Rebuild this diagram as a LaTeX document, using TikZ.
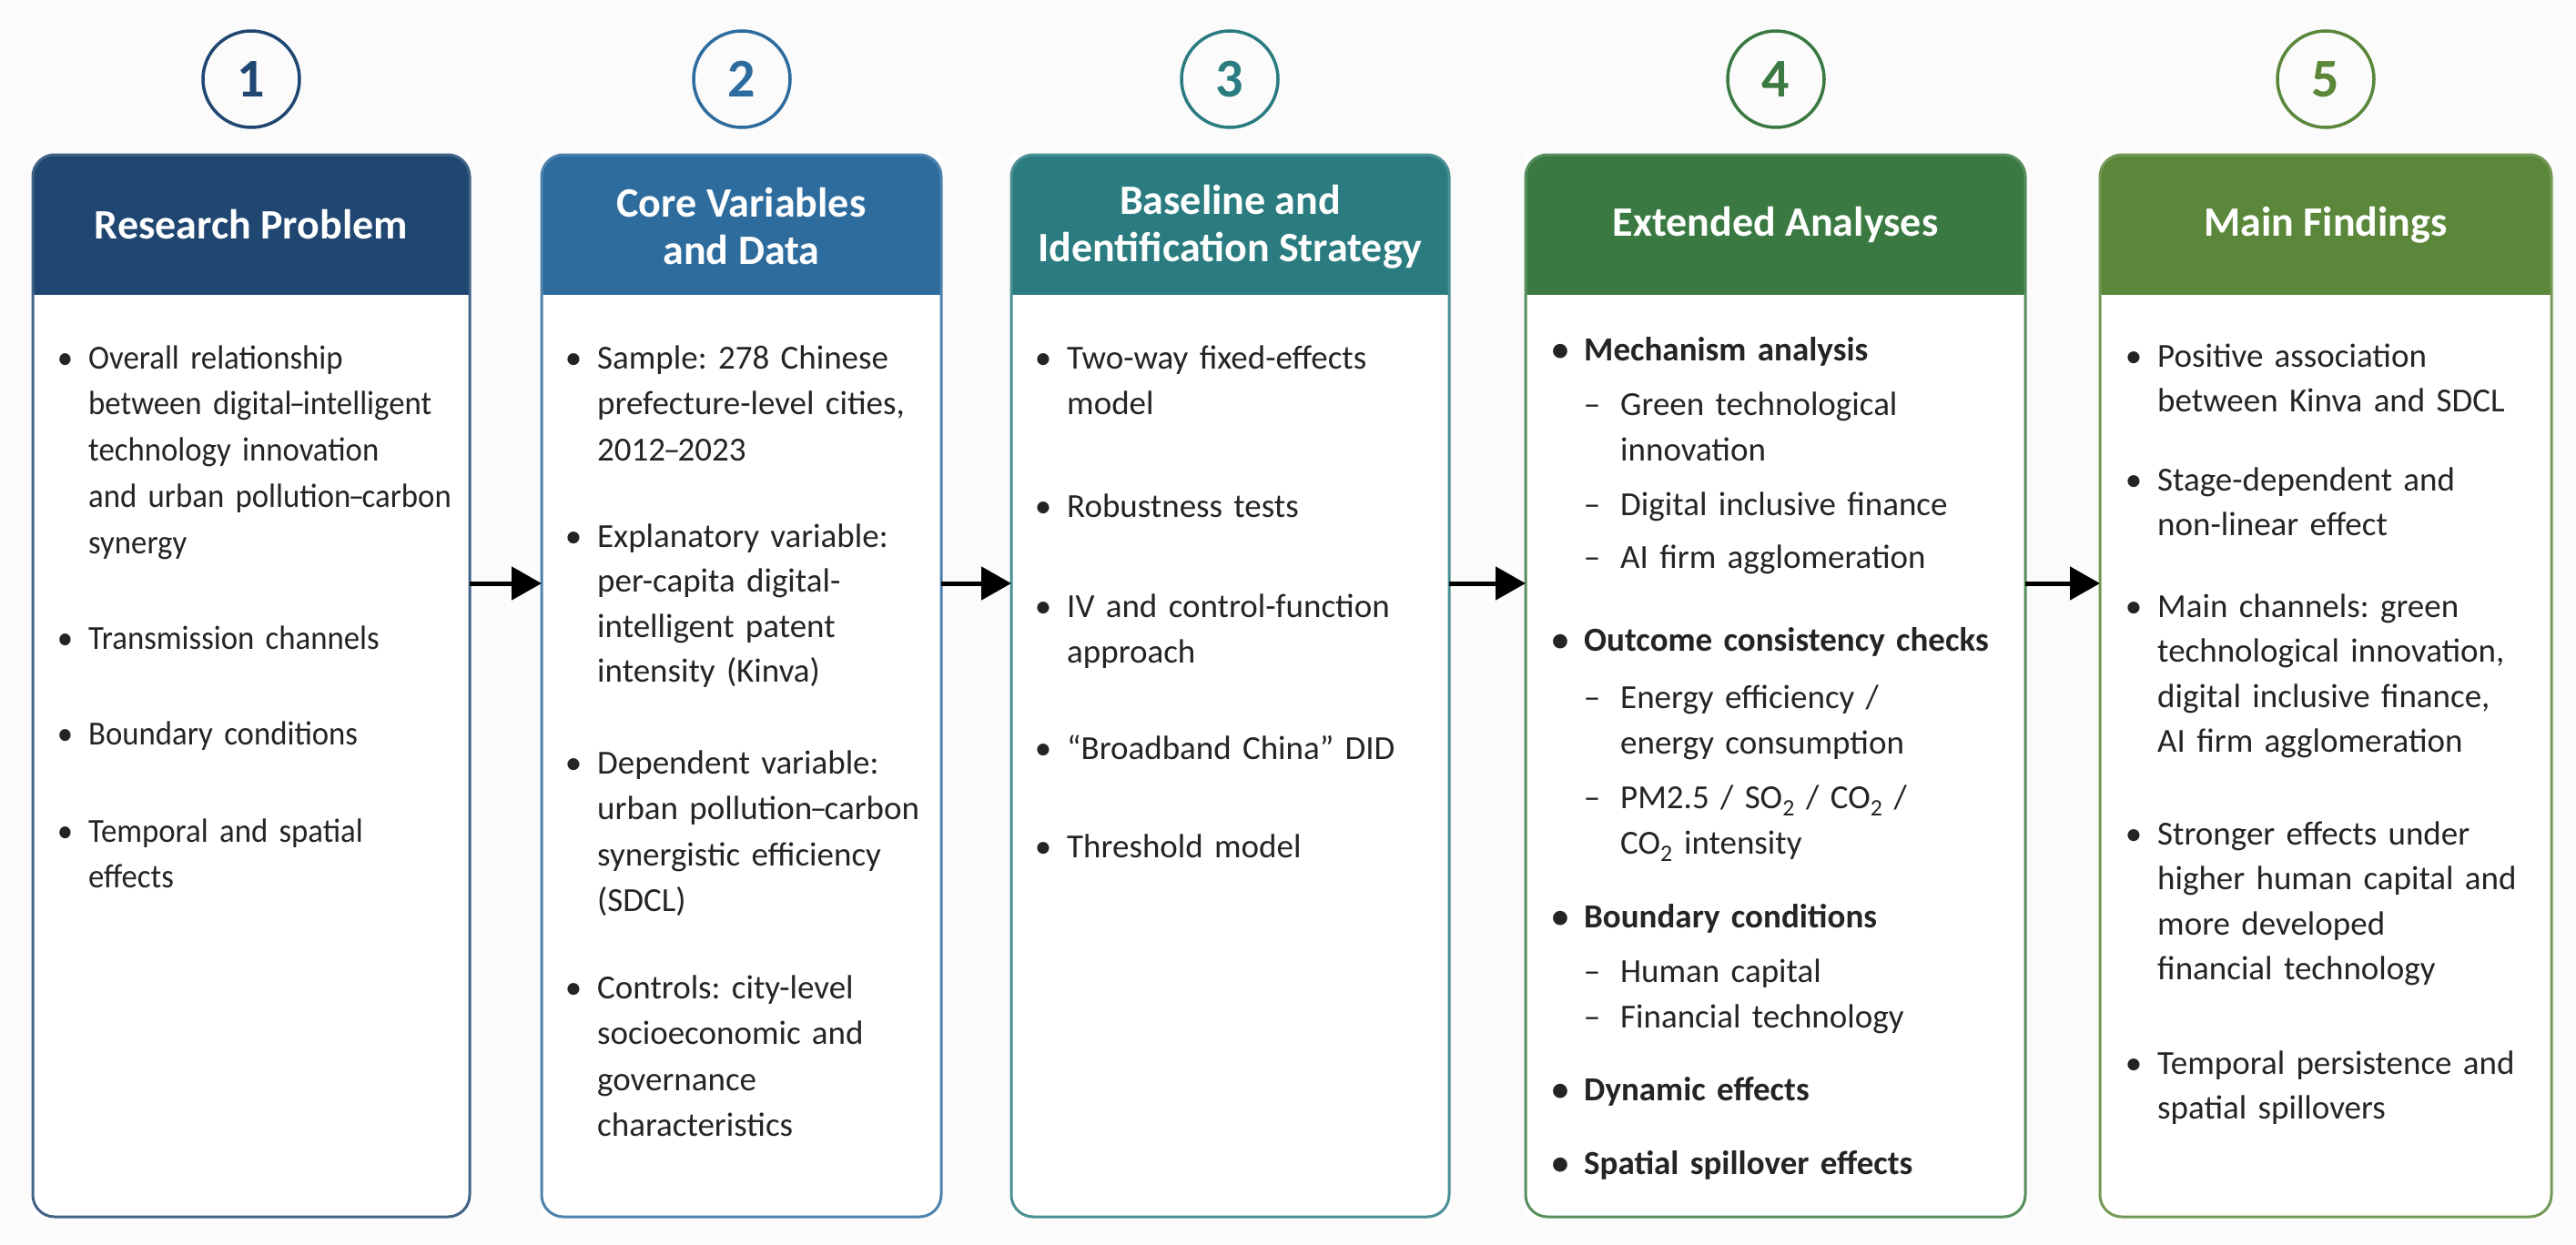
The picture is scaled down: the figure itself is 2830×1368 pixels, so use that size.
\documentclass[tikz,border=0pt]{standalone}
\usepackage{fontspec}
\setmainfont{Carlito}
\newfontfamily\narrowf{Carlito}[FakeStretch=0.94]
\usetikzlibrary{arrows.meta}
\definecolor{bgc}{HTML}{FBFBFB}
\definecolor{txt}{HTML}{242424}
\definecolor{cA}{HTML}{1F4771}
\definecolor{cB}{HTML}{2E6C9E}
\definecolor{cC}{HTML}{2A7C80}
\definecolor{cD}{HTML}{3A7A42}
\definecolor{cE}{HTML}{5B873A}
\newcommand\bul{\llap{•\hspace{17pt}}}
\newcommand\dsh{\llap{–\hspace{22pt}}}
\newcommand\nd{\kern-2.5pt–\kern-2.5pt}
\frenchspacing
\begin{document}
\begin{tikzpicture}[x=1pt,y=-1pt,
  boxsty/.style={draw=none,fill=white,minimum height=1167pt,inner sep=0pt,outer sep=0pt},
  hdrtxt/.style={text=white,font=\fontsize{46}{52}\selectfont\bfseries,align=center,inner sep=0pt},
  numsty/.style={circle,draw=#1,line width=3.5pt,minimum size=106pt,inner sep=0pt,text=#1,font=\fontsize{60}{60}\selectfont\bfseries},
  itm/.style={anchor=base west,inner sep=0pt,text width=470pt,align=left,text=txt,font=\fontsize{37}{50.5}\selectfont\frenchspacing},
  itmn/.style={itm,font=\narrowf\fontsize{37}{50.75}\selectfont\frenchspacing},
  itmb/.style={itm,font=\fontsize{37}{50.5}\selectfont\bfseries\frenchspacing},
  itmc/.style={itm,font=\fontsize{37}{49.5}\selectfont\frenchspacing},
  arr/.style={line width=5pt,-{Triangle[length=33pt,width=36pt]},black}
]
\fill[bgc] (0,0) rectangle (2830,1368);
\useasboundingbox (0,0) rectangle (2830,1368);

% boxes
\foreach \nm/\cx/\w/\col in {b1/276/480/cA, b2/814.5/439/cB, b3/1351.5/481/cC, b4/1950.5/549/cD, b5/2555/496/cE}{
  \node[boxsty,minimum width=\w pt] (\nm) at (\cx,753.5) {};
  \begin{scope}
    \clip[rounded corners=24pt] (\nm.north west) rectangle (\nm.south east);
    \fill[\col] (\nm.north west) rectangle (\nm.east |- 0,324);
  \end{scope}
  \draw[\col!85!white,line width=3pt,rounded corners=24pt] (\nm.north west) rectangle (\nm.south east);
}

% numbers
\node[numsty=cA] (n1) at (276,87) {1};
\node[numsty=cB] (n2) at (815,87) {2};
\node[numsty=cC] (n3) at (1351,87) {3};
\node[numsty=cD] (n4) at (1951,87) {4};
\node[numsty=cE] (n5) at (2555,87) {5};

% headers
\node[hdrtxt] (h1) at (276,247) {Research Problem};
\node[hdrtxt] (h2) at (814.5,249) {Core Variables\\and Data};
\node[hdrtxt] (h3) at (1351.5,249) {Baseline and\\Identification Strategy};
\node[hdrtxt] (h4) at (1950.5,247) {Extended Analyses};
\node[hdrtxt] (h5) at (2555,247) {Main Findings};

% arrows
\draw[arr] (b1.east |- 0,641) -- (b2.west |- 0,641);
\draw[arr] (b2.east |- 0,641) -- (b3.west |- 0,641);
\draw[arr] (b3.east |- 0,641) -- (b4.west |- 0,641);
\draw[arr] (b4.east |- 0,641) -- (b5.west |- 0,641);

% box 1
\node[itmn] (a1) at (97,405) {\bul Overall relationship\\between digital\nd intelligent\\technology innovation\\and urban pollution\nd carbon\\synergy};
\node[itmn] (a2) at (97,713) {\bul Transmission channels};
\node[itmn] (a3) at (97,818) {\bul Boundary conditions};
\node[itmn] (a4) at (97,925) {\bul Temporal and spatial\\effects};

% box 2
\node[itm] (c1) at (656,405) {\bul Sample: 278 Chinese\\prefecture-level cities,\\2012\nd 2023};
\node[itmc] (c2) at (656,601) {\bul Explanatory variable:\\per-capita digital-\\intelligent patent\\intensity (Kinva)};
\node[itm] (c3) at (656,850) {\bul Dependent variable:\\urban pollution\nd carbon\\synergistic efficiency\\(SDCL)};
\node[itm] (c4) at (656,1097) {\bul Controls: city-level\\socioeconomic and\\governance\\characteristics};

% box 3
\node[itm] (d1) at (1172,405) {\bul Two-way fixed-effects\\model};
\node[itm] (d2) at (1172,568) {\bul Robustness tests};
\node[itm] (d3) at (1172,678) {\bul IV and control-function\\approach};
\node[itm] (d4) at (1172,834) {\bul “Broadband China” DID};
\node[itm] (d5) at (1172,942) {\bul Threshold model};

% box 4
\node[itmb] (e1) at (1740,396) {\bul Mechanism analysis};
\node[itm] (e2) at (1780,456) {\dsh Green technological\\innovation};
\node[itm] (e3) at (1780,566) {\dsh Digital inclusive finance};
\node[itm] (e4) at (1780,624) {\dsh AI firm agglomeration};
\node[itmb] (e5) at (1740,715) {\bul Outcome consistency checks};
\node[itm] (e6) at (1780,778) {\dsh Energy efficiency /\\energy consumption};
\node[itm] (e7) at (1780,888) {\dsh PM2.5 / SO\textsubscript{2} / CO\textsubscript{2} /\\CO\textsubscript{2} intensity};
\node[itmb] (e8) at (1740,1019) {\bul Boundary conditions};
\node[itm] (e9) at (1780,1079) {\dsh Human capital};
\node[itm] (e10) at (1780,1129) {\dsh Financial technology};
\node[itmb] (e11) at (1740,1209) {\bul Dynamic effects};
\node[itmb] (e12) at (1740,1290) {\bul Spatial spillover effects};

% box 5
\node[itmc] (f1) at (2370,403) {\bul Positive association\\between Kinva and SDCL};
\node[itmc] (f2) at (2370,539) {\bul Stage-dependent and\\non-linear effect};
\node[itmc] (f3) at (2370,678) {\bul Main channels: green\\technological innovation,\\digital inclusive finance,\\AI firm agglomeration};
\node[itmc] (f4) at (2370,928) {\bul Stronger effects under\\higher human capital and\\more developed\\financial technology};
\node[itmc] (f5) at (2370,1180) {\bul Temporal persistence and\\spatial spillovers};
\end{tikzpicture}
\end{document}
